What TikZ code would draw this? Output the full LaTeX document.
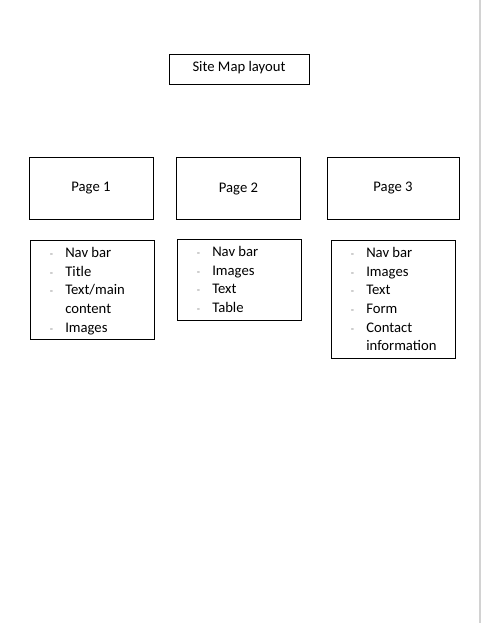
\documentclass[tikz,border=0pt]{standalone}
\usepackage{fontspec}
\setmainfont{Carlito}
\begin{document}
\begin{tikzpicture}[x=0.75pt,y=-0.75pt,
  box/.style={draw=black,line width=0.75pt,inner sep=0pt},
  lbl/.style={font=\fontsize{11pt}{13pt}\selectfont,inner sep=0pt,anchor=base west},
  dsh/.style={font=\fontsize{8pt}{9pt}\selectfont,text=gray,inner sep=0pt,anchor=base west},
  ctr/.style={font=\fontsize{11pt}{13pt}\selectfont,inner sep=0pt,anchor=base}]
\useasboundingbox (0,0) rectangle (481,623);
\fill[white] (0,0) rectangle (481,623);
\fill[gray!35] (479.2,0) rectangle (481,623);
% title
\draw[box] (169.5,54.5) rectangle (309.5,84.5);
\node[ctr] (title) at (239,72) {Site Map layout};
% pages
\draw[box] (29.5,157.5) rectangle (153.5,219.5);
\node[ctr] (p1) at (91,192) {Page 1};
\draw[box] (176.5,157.5) rectangle (300.5,219.5);
\node[ctr] (p2) at (238.5,193) {Page 2};
\draw[box] (327.5,157.5) rectangle (459.5,219.5);
\node[ctr] (p3) at (393,192) {Page 3};
% lists
\draw[box] (30.5,240.5) rectangle (154.5,339.5);
\draw[box] (177.5,239.5) rectangle (301.5,320.5);
\draw[box] (331.5,240.5) rectangle (455.5,358.5);
% list 1
\foreach \t/\y/\d [count=\i] in {Nav bar/257.5/1,Title/276.2/1,Text\slash main/294.9/1,content/313.6/0,Images/332.3/1}{
  \node[lbl] (la\i) at (65,\y) {\t};
  \ifnum\d=1 \node[dsh] (da\i) at (49.5,\y) {-};\fi
}
% list 2
\foreach \t/\y [count=\i] in {Nav bar/256.5,Images/275.2,Text/293.9,Table/312.6}{
  \node[lbl] (lb\i) at (212,\y) {\t};
  \node[dsh] (db\i) at (196.5,\y) {-};
}
% list 3
\foreach \t/\y/\d [count=\i] in {Nav bar/257.3/1,Images/276/1,Text/294.7/1,Form/313.4/1,Contact/332.1/1,information/350.8/0}{
  \node[lbl] (lc\i) at (366,\y) {\t};
  \ifnum\d=1 \node[dsh] (dc\i) at (350.5,\y) {-};\fi
}
\end{tikzpicture}
\end{document}
